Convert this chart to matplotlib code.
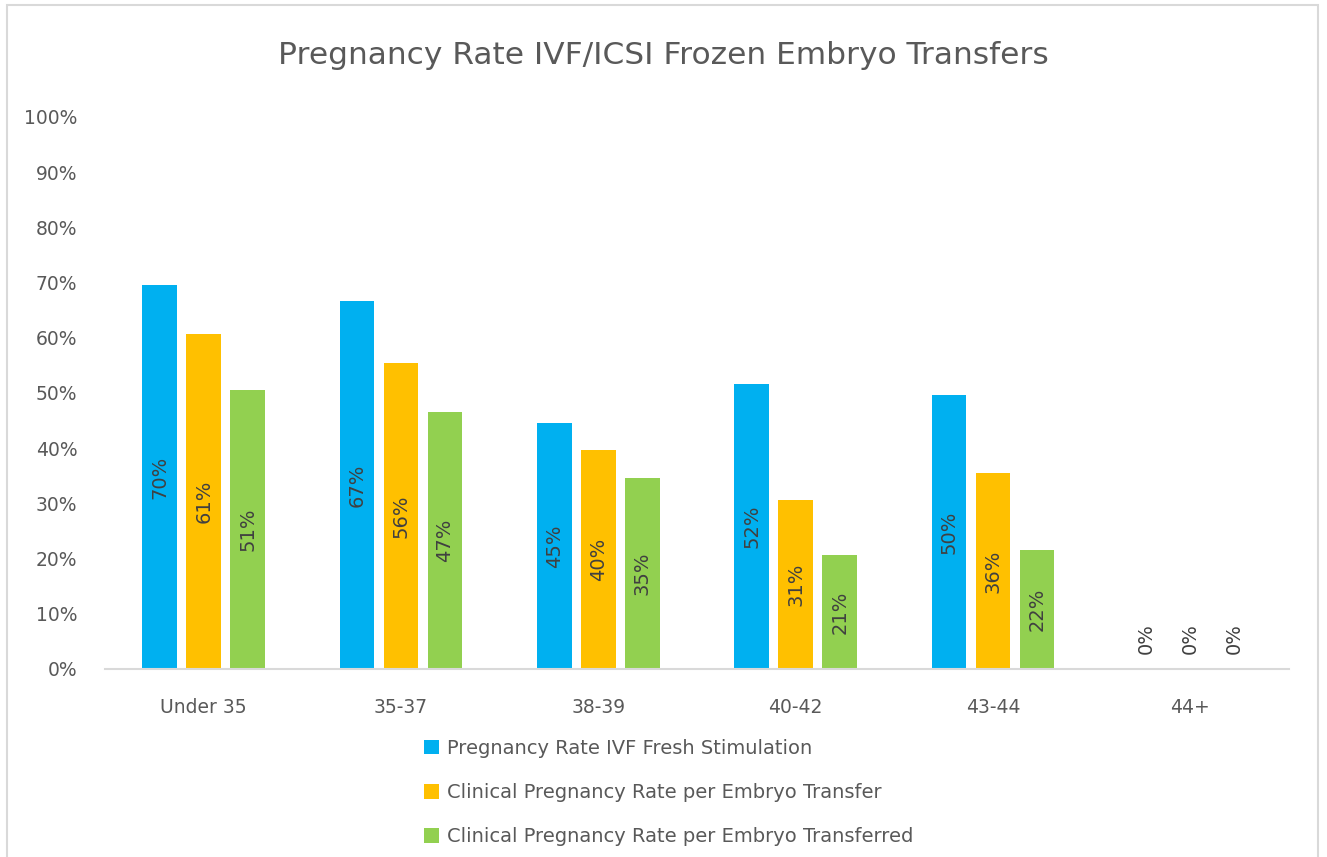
import numpy as np
import matplotlib
matplotlib.use("Agg")
import matplotlib.pyplot as plt
from matplotlib.patches import Rectangle

plt.rcParams['font.family'] = ['DejaVu Sans']

# data
categories = ["Under 35", "35-37", "38-39", "40-42", "43-44", "44+"]
series_names = ["Pregnancy Rate IVF Fresh Stimulation",
                "Clinical Pregnancy Rate per Embryo Transfer",
                "Clinical Pregnancy Rate per Embryo Transferred"]
fresh = [69.5, 66.6, 44.6, 51.6, 49.6, 0]
per_transfer = [60.6, 55.5, 39.6, 30.6, 35.5, 0]
per_transferred = [50.6, 46.6, 34.6, 20.7, 21.6, 0]
colors = ["#00B0F0", "#FFC000", "#92D050"]

W, H = 1327, 857
fig = plt.figure(figsize=(W / 100, H / 100), dpi=100)
fig.patches.append(Rectangle((7 / W, -0.01), (1318 - 7) / W, 1 - 5 / H + 0.01,
                             transform=fig.transFigure, fill=False,
                             edgecolor="#D9D9D9", linewidth=1.5))

ax = fig.add_axes([105 / W, (857 - 669) / H, (1289 - 105) / W, (669 - 117) / H])

x = np.arange(len(categories))
width = 0.177
step = 0.223
all_series = [fresh, per_transfer, per_transferred]
for i, vals in enumerate(all_series):
    vals = np.array(vals) / 100
    pos = x + (i - 1) * step
    ax.bar(pos, vals, width, color=colors[i], label=series_names[i])
    for xp, v in zip(pos, vals):
        ypos = v / 2 if v > 0 else 0.055
        ax.text(xp, ypos, "{:.0f}%".format(v * 100), rotation=90,
                ha="center", va="center", fontsize=14, color="#404040")

ax.set_xlim(-0.5, len(categories) - 0.5)
ax.set_ylim(0, 1)
yt = np.arange(0, 1.01, 0.1)
ax.set_yticks(yt)
ax.set_yticklabels(["{:.0f}%".format(t * 100) for t in yt])
ax.set_xticks(x)
ax.set_xticklabels(categories)
ax.tick_params(length=0, labelsize=13.5, colors="#595959")
ax.tick_params(axis="y", pad=20)
ax.tick_params(axis="x", pad=21)
for s in ["top", "right", "left"]:
    ax.spines[s].set_visible(False)
ax.spines["bottom"].set_color("#D9D9D9")
ax.spines["bottom"].set_linewidth(1.5)

fig.text(0.5, 1 - 55 / H, "Pregnancy Rate IVF/ICSI Frozen Embryo Transfers",
         ha="center", va="center", fontsize=22.5, color="#595959")

leg = fig.legend(loc="upper left", bbox_to_anchor=(414 / W, 1 - 729 / H),
                 frameon=False, fontsize=14, handlelength=0.8, handleheight=0.8,
                 labelspacing=1.3, handletextpad=0.4, borderpad=0)
for t in leg.get_texts():
    t.set_color("#595959")

fig.savefig("out.png", dpi=100)
